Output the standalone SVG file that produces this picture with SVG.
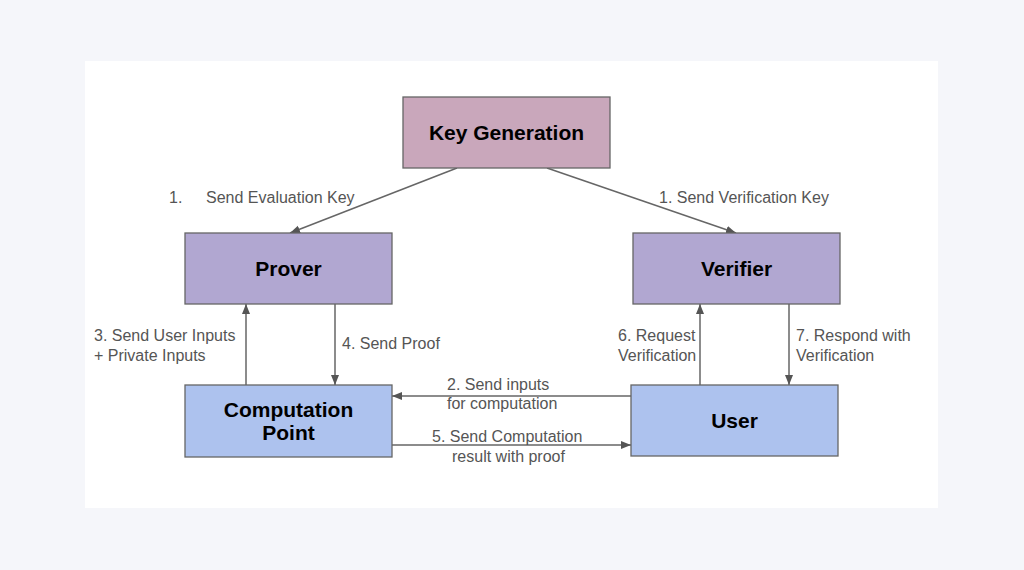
<svg xmlns="http://www.w3.org/2000/svg" width="1024" height="570" viewBox="0 0 1024 570">
<style>
.box{stroke:#666;stroke-width:1.3}
.kg{fill:#c9a7bb}
.pv{fill:#b1a7d1}
.bl{fill:#adc2ee}
.t{font-family:"Liberation Sans",Arial,sans-serif;font-weight:bold;font-size:21px;fill:#000;text-anchor:middle}
.l{font-family:"Liberation Sans",Arial,sans-serif;font-size:16px;fill:#555}
.c{stroke:#666;stroke-width:1.5;fill:none;marker-end:url(#ah)}
</style>
<defs>
<marker id="ah" viewBox="0 0 10 10" refX="10" refY="5" markerWidth="10" markerHeight="10" markerUnits="userSpaceOnUse" orient="auto">
<path d="M0,1 L10,5 L0,9 z" fill="#555"/>
</marker>
</defs>
<rect width="1024" height="570" fill="#f5f6fa"/>
<rect x="85" y="61" width="853" height="447" fill="#fff"/>
<g id="connectors">
<line class="c" x1="457" y1="168" x2="290" y2="233"/>
<line class="c" x1="547" y1="168" x2="736" y2="233"/>
<line class="c" x1="246" y1="385" x2="246" y2="304"/>
<line class="c" x1="335" y1="304" x2="335" y2="385"/>
<line class="c" x1="631" y1="396" x2="392" y2="396"/>
<line class="c" x1="392" y1="445" x2="631" y2="445"/>
<line class="c" x1="700" y1="385" x2="700" y2="304"/>
<line class="c" x1="789" y1="304" x2="789" y2="385"/>
<text class="l" x="169" y="203">1.</text>
<text class="l" x="206" y="203">Send Evaluation Key</text>
<text class="l" x="659" y="203">1. Send Verification Key</text>
<text class="l" x="94" y="341">3. Send User Inputs</text>
<text class="l" x="94" y="361">+ Private Inputs</text>
<text class="l" x="342" y="349">4. Send Proof</text>
<text class="l" x="447" y="390">2. Send inputs</text>
<text class="l" x="447" y="409">for computation</text>
<text class="l" x="432" y="442">5. Send Computation</text>
<text class="l" x="452" y="462">result with proof</text>
<text class="l" x="618" y="341">6. Request</text>
<text class="l" x="618" y="361">Verification</text>
<text class="l" x="796" y="341">7. Respond with</text>
<text class="l" x="796" y="361">Verification</text>
</g>
<g id="keygen"><rect class="box kg" x="403" y="97" width="207" height="71"/><text class="t" x="506.5" y="140">Key Generation</text></g>
<g id="prover"><rect class="box pv" x="185" y="233" width="207" height="71"/><text class="t" x="288.5" y="276">Prover</text></g>
<g id="verifier"><rect class="box pv" x="633" y="233" width="207" height="71"/><text class="t" x="736.5" y="276">Verifier</text></g>
<g id="computation"><rect class="box bl" x="185" y="385" width="207" height="72"/><text class="t" x="288.5" y="417">Computation</text><text class="t" x="288.5" y="440">Point</text></g>
<g id="user"><rect class="box bl" x="631" y="385" width="207" height="71"/><text class="t" x="734.5" y="428">User</text></g>
</svg>
